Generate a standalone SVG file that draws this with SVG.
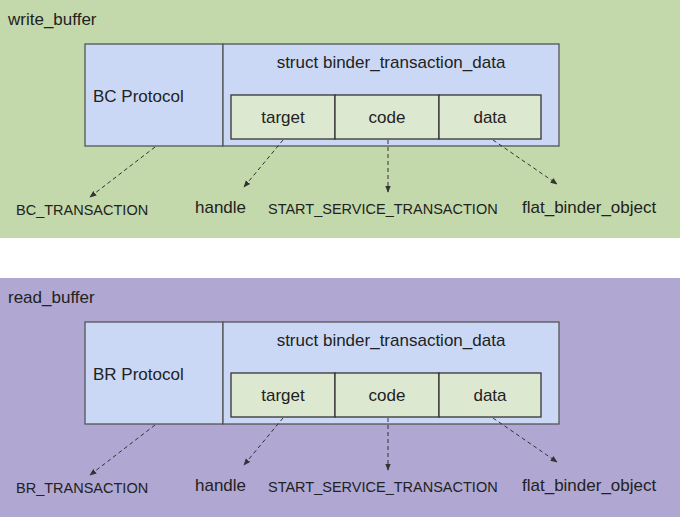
<svg xmlns="http://www.w3.org/2000/svg" width="683" height="517" viewBox="0 0 683 517">
<defs>
<style>
text{font-family:"Liberation Sans",Arial,sans-serif;fill:#222;}
.big{font-size:17px;}
.mid{font-size:14.5px;}
.c{text-anchor:middle;}
.box{fill:#cbd8f5;stroke:#555;stroke-width:1.3;}
.cell{fill:#dde8d1;stroke:#333;stroke-width:1.3;}
.ln{stroke:#333;stroke-width:1;stroke-dasharray:4 3;fill:none;marker-end:url(#ah);}
</style>
<marker id="ah" viewBox="0 0 10 10" refX="9" refY="5" markerWidth="7" markerHeight="7" orient="auto" markerUnits="userSpaceOnUse">
<path d="M0,1 L10,5 L0,9 z" fill="#333"/>
</marker>
</defs>
<rect width="683" height="517" fill="#ffffff"/>
<g id="write_buffer">
<rect x="0" y="0" width="680" height="238" fill="#c4d9ab"/>
<text class="big" x="8" y="25">write_buffer</text>
</g>
<g id="bc_protocol">
<rect class="box" x="85" y="44" width="138" height="102"/>
<text class="big" x="93" y="102">BC Protocol</text>
</g>
<g id="bc_struct">
<rect class="box" x="223" y="44" width="336" height="102"/>
<text class="big c" x="391" y="68">struct binder_transaction_data</text>
</g>
<g id="bc_target"><rect class="cell" x="231" y="95" width="104" height="44"/><text class="big c" x="283" y="123">target</text></g>
<g id="bc_code"><rect class="cell" x="335" y="95" width="104" height="44"/><text class="big c" x="387" y="123">code</text></g>
<g id="bc_data"><rect class="cell" x="439" y="95" width="102" height="44"/><text class="big c" x="490" y="123">data</text></g>
<g id="bc_labels">
<text class="mid" x="16" y="215">BC_TRANSACTION</text>
<text class="big" x="195" y="213">handle</text>
<text class="mid" x="268" y="214">START_SERVICE_TRANSACTION</text>
<text class="big" x="522" y="213">flat_binder_object</text>
</g>

<g id="read_buffer">
<rect x="0" y="278" width="680" height="239" fill="#b0a7d3"/>
<text class="big" x="8" y="303">read_buffer</text>
</g>
<g id="br_protocol">
<rect class="box" x="85" y="322" width="138" height="102"/>
<text class="big" x="93" y="380">BR Protocol</text>
</g>
<g id="br_struct">
<rect class="box" x="223" y="322" width="336" height="102"/>
<text class="big c" x="391" y="346">struct binder_transaction_data</text>
</g>
<g id="br_target"><rect class="cell" x="231" y="373" width="104" height="44"/><text class="big c" x="283" y="401">target</text></g>
<g id="br_code"><rect class="cell" x="335" y="373" width="104" height="44"/><text class="big c" x="387" y="401">code</text></g>
<g id="br_data"><rect class="cell" x="439" y="373" width="102" height="44"/><text class="big c" x="490" y="401">data</text></g>
<g id="br_labels">
<text class="mid" x="16" y="493">BR_TRANSACTION</text>
<text class="big" x="195" y="491">handle</text>
<text class="mid" x="268" y="492">START_SERVICE_TRANSACTION</text>
<text class="big" x="522" y="491">flat_binder_object</text>
</g>

<g id="connectors">
<path class="ln" d="M155,147 L90,197"/>
<path class="ln" d="M283,140 L244,187"/>
<path class="ln" d="M388,140 L388,192"/>
<path class="ln" d="M493,140 L557,184"/>
<path class="ln" d="M155,425 L90,475"/>
<path class="ln" d="M283,418 L244,465"/>
<path class="ln" d="M388,418 L388,470"/>
<path class="ln" d="M493,418 L557,462"/>
</g>
</svg>
